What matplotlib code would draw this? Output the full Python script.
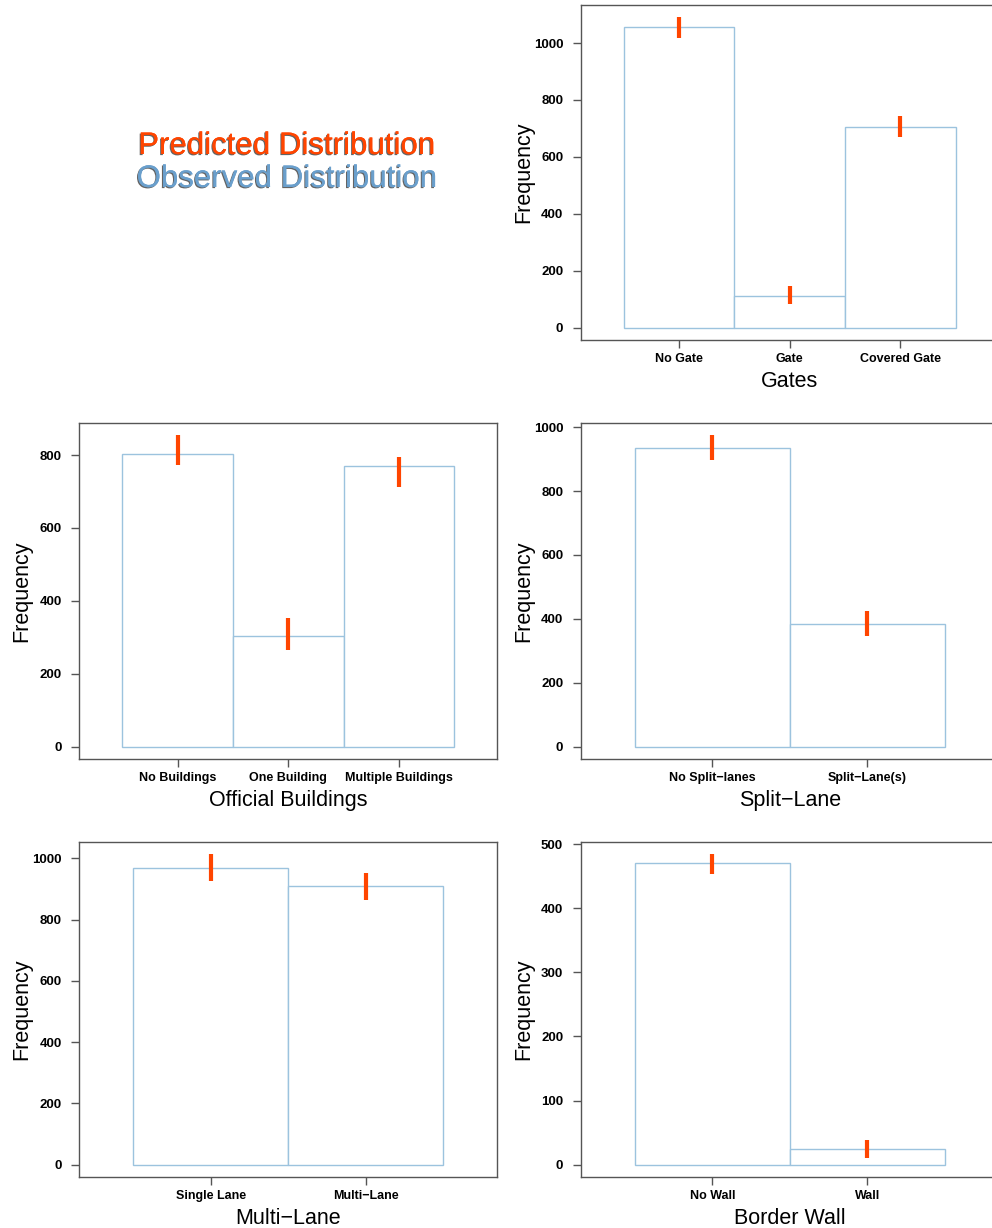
import matplotlib
matplotlib.use("Agg")
import matplotlib.pyplot as plt
import matplotlib.patheffects as pe

plt.rcParams['font.family'] = ['Liberation Sans', 'DejaVu Sans']

# observed counts and predicted ranges
gates_labels = ["No Gate", "Gate", "Covered Gate"]
gates_obs = [1055, 110, 706]
gates_lo = [1017, 84, 671]
gates_hi = [1090, 147, 745]

build_labels = ["No Buildings", "One Building", "Multiple Buildings"]
build_obs = [802, 303, 771]
build_lo = [772, 264, 712]
build_hi = [854, 352, 795]

split_labels = ["No Split\u2212lanes", "Split\u2212Lane(s)"]
split_obs = [935, 384]
split_lo = [896, 346]
split_hi = [974, 424]

multi_labels = ["Single Lane", "Multi\u2212Lane"]
multi_obs = [969, 910]
multi_lo = [926, 863]
multi_hi = [1013, 953]

wall_labels = ["No Wall", "Wall"]
wall_obs = [471, 24]
wall_lo = [454, 11]
wall_hi = [484, 39]

OBS_COL = "#9cc3de"
PRED_COL = "#ff4500"
AX_COL = "#555555"

W, H = 992, 1228
fig = plt.figure(figsize=(W / 100, H / 100), dpi=100)


def px_axes(left, top, right, bottom):
    return fig.add_axes([left / W, 1 - bottom / H, (right - left) / W, (bottom - top) / H])


def panel(ax, labels, obs, lo, hi, xlabel, ystep):
    n = len(labels)
    xs = list(range(1, n + 1))
    ax.bar(xs, obs, width=1.0, facecolor="white", edgecolor=OBS_COL, linewidth=1.0)
    ax.vlines(xs, lo, hi, color=PRED_COL, linewidth=3)
    top = max(max(obs), max(hi))
    pad = 0.04 * top
    ax.set_ylim(-pad, top + pad)
    m = 0.39 if n == 3 else 0.35
    ax.set_xlim(0.5 - m, n + 0.5 + m)
    ax.set_xticks(xs)
    ax.set_xticklabels(labels, fontsize=9, fontweight="bold")
    ticks = list(range(0, int(top + pad) + 1, ystep))
    ax.set_yticks(ticks)
    ax.set_yticklabels([str(t) for t in ticks], fontsize=9.5, fontweight="bold")
    ax.tick_params(axis="both", direction="out", length=6, width=1, color=AX_COL)
    ax.tick_params(axis="y", pad=6.5)
    ax.tick_params(axis="x", pad=3.5)
    for s in ax.spines.values():
        s.set_color(AX_COL)
        s.set_linewidth(1)
    ax.set_ylabel("Frequency", fontsize=15.5)
    ax.yaxis.set_label_coords(-0.111, 0.5)
    ax.set_xlabel(xlabel, fontsize=15.5, labelpad=4.5)


L1, R1 = 79, 497.5
L2, R2 = 580.5, 999
ax1 = px_axes(L2, 5, R2, 340)
panel(ax1, gates_labels, gates_obs, gates_lo, gates_hi, "Gates", 200)
ax2 = px_axes(L1, 423, R1, 759)
panel(ax2, build_labels, build_obs, build_lo, build_hi, "Official Buildings", 200)
ax3 = px_axes(L2, 423, R2, 759)
panel(ax3, split_labels, split_obs, split_lo, split_hi, "Split\u2212Lane", 200)
ax4 = px_axes(L1, 842, R1, 1177)
panel(ax4, multi_labels, multi_obs, multi_lo, multi_hi, "Multi\u2212Lane", 200)
ax5 = px_axes(L2, 842, R2, 1177)
panel(ax5, wall_labels, wall_obs, wall_lo, wall_hi, "Border Wall", 100)

shadow = [pe.withSimplePatchShadow(offset=(-0.8, -0.8), shadow_rgbFace="#222222", alpha=0.7), pe.Normal()]
fig.text(287 / W, 1 - 146 / H, "Predicted Distribution", color=PRED_COL, fontsize=22.5,
         ha="center", va="center", path_effects=shadow)
fig.text(287 / W, 1 - 179 / H, "Observed Distribution", color="#6a9fcc", fontsize=22.5,
         ha="center", va="center", path_effects=shadow)

fig.savefig("out.png", dpi=100)
